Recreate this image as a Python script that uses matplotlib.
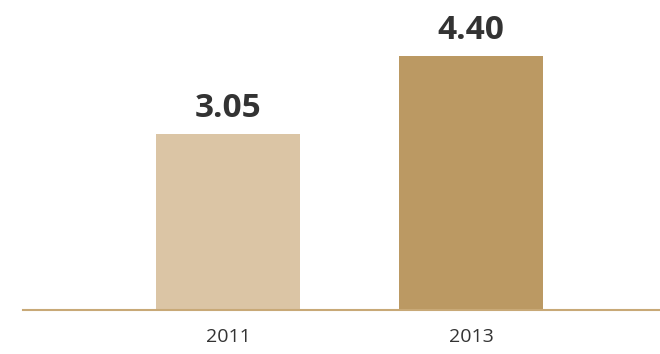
import matplotlib.pyplot as plt

# Values per survey year
years = ['2011', '2013']
values = [3.05, 4.40]
bar_colors = ['#dbc5a5', '#bb9963']

plt.rcParams['font.family'] = 'Open Sans'

fig = plt.figure(figsize=(6.6, 3.54), dpi=100)
ax = fig.add_axes([23 / 660, 44 / 354, 637 / 660, 310 / 354])

x = list(range(len(years)))
bars = ax.bar(x, values, width=0.593, color=bar_colors)

for xi, v in zip(x, values):
    ax.annotate(f'{v:.2f}', (xi, v), xytext=(0, 12), textcoords='offset points',
                ha='center', va='baseline', fontsize=24, fontweight='bold',
                color='#333333')

ax.set_xlim(-0.8436, 1.7778)
ax.set_ylim(0, 5.373)

for side in ['top', 'right', 'left']:
    ax.spines[side].set_visible(False)
ax.spines['bottom'].set_color('#c8a977')
ax.spines['bottom'].set_linewidth(1.5)

ax.set_yticks([])
ax.set_xticks(x)
ax.set_xticklabels(years, fontsize=14, color='#333333')
ax.tick_params(axis='x', length=0, pad=13)
ax.grid(False)

fig.savefig('out.png', dpi=100)
